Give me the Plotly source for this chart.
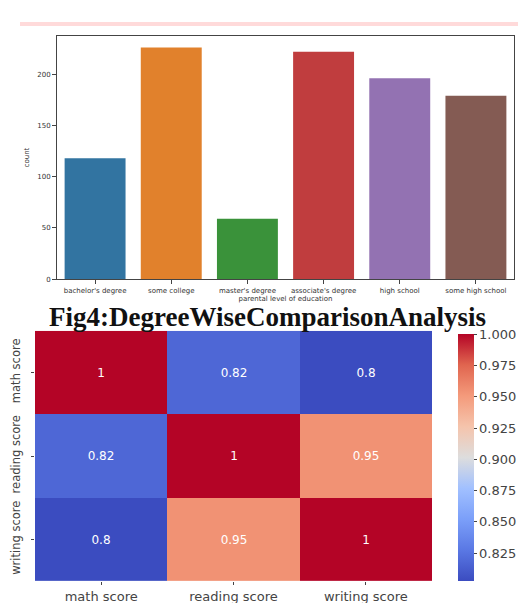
import plotly.graph_objects as go

# ---- data ----
categories = ["bachelor's degree", "some college", "master's degree",
              "associate's degree", "high school", "some high school"]
counts = [118, 226, 59, 222, 196, 179]
bar_colors = ["#3274a1", "#e1812c", "#3a923a", "#c03d3e", "#9372b2", "#845b53"]

score_labels = ["math score", "reading score", "writing score"]
corr = [[1.0, 0.8176, 0.8026],
        [0.8176, 1.0, 0.9546],
        [0.8026, 0.9546, 1.0]]

caption = "Fig4:DegreeWiseComparisonAnalysis"

coolwarm = [
    [0.0, "#3b4cc0"], [0.125, "#5a78e4"], [0.25, "#7b9ff9"], [0.375, "#a1c0ff"],
    [0.5, "#dddddd"], [0.625, "#f5c4ac"], [0.75, "#f49a7b"], [0.875, "#e0654f"],
    [1.0, "#b40426"],
]

W, H = 526, 603
OFF_X = 8  # page body margin
OFF_Y = 5
def px_x(x): return (x - OFF_X) / W
def px_y(y): return 1 - (y - OFF_Y) / H

fig = go.Figure()

fig.add_trace(go.Bar(
    x=categories, y=counts, marker=dict(color=bar_colors, line=dict(width=0)),
    width=0.8, xaxis="x", yaxis="y", showlegend=False,
))

fig.add_trace(go.Heatmap(
    z=corr, x=score_labels, y=score_labels, xaxis="x2", yaxis="y2",
    colorscale=coolwarm, zmin=0.8026, zmax=1.0,
    texttemplate="%{z:.2~g}", textfont=dict(color="white", size=12, family="DejaVu Sans"),
    colorbar=dict(
        x=px_x(458), xanchor="left", xpad=0, ypad=0,
        y=px_y(582), yanchor="bottom", len=(582 - 333) / H, lenmode="fraction",
        thickness=16, outlinewidth=0,
        tick0=0.825, dtick=0.025, tickformat=".3f", ticks="outside", ticklen=3,
        tickcolor="#444", tickfont=dict(size=13, color="#444", family="DejaVu Sans"),
    ),
    showscale=True,
))

axis_line = dict(showline=True, linecolor="#444", linewidth=1, mirror=True,
                 ticks="outside", ticklen=4, tickcolor="#444", showgrid=False,
                 zeroline=False)

fig.update_layout(
    width=W, height=H, margin=dict(l=0, r=0, t=0, b=0),
    paper_bgcolor="white", plot_bgcolor="white",
    font=dict(family="DejaVu Sans", color="#333"),
    bargap=0.2,
    xaxis=dict(domain=[px_x(57), px_x(514)], anchor="y", range=[-0.5, 5.5],
               tickfont=dict(size=7), title=dict(text="parental level of education",
               font=dict(size=7), standoff=1), **axis_line),
    yaxis=dict(domain=[px_y(278), px_y(33)], anchor="x", range=[0, 237.5],
               tickvals=[0, 50, 100, 150, 200], tickfont=dict(size=7),
               title=dict(text="count", font=dict(size=7), standoff=6), **axis_line),
    xaxis2=dict(domain=[px_x(35), px_x(432)], anchor="y2", showgrid=False,
                ticks="outside", ticklen=3, tickcolor="#444",
                tickfont=dict(size=13, color="#444")),
    yaxis2=dict(domain=[px_y(582), px_y(330)], anchor="x2", autorange="reversed",
                showgrid=False, ticks="outside", ticklen=3, tickcolor="#444",
                ticklabelstandoff=6,
                tickangle=-90, tickfont=dict(size=11.5, color="#444")),
)

fig.add_shape(type="line", xref="paper", yref="paper",
              x0=px_x(20), x1=1, y0=px_y(21), y1=px_y(21),
              line=dict(color="#ffdada", width=4))

fig.add_annotation(text="<b>" + caption + "</b>", xref="paper", yref="paper",
                   x=px_x(267), y=px_y(316), showarrow=False,
                   font=dict(family="Liberation Serif", size=27, color="#111"))

fig.write_html("out.html")
